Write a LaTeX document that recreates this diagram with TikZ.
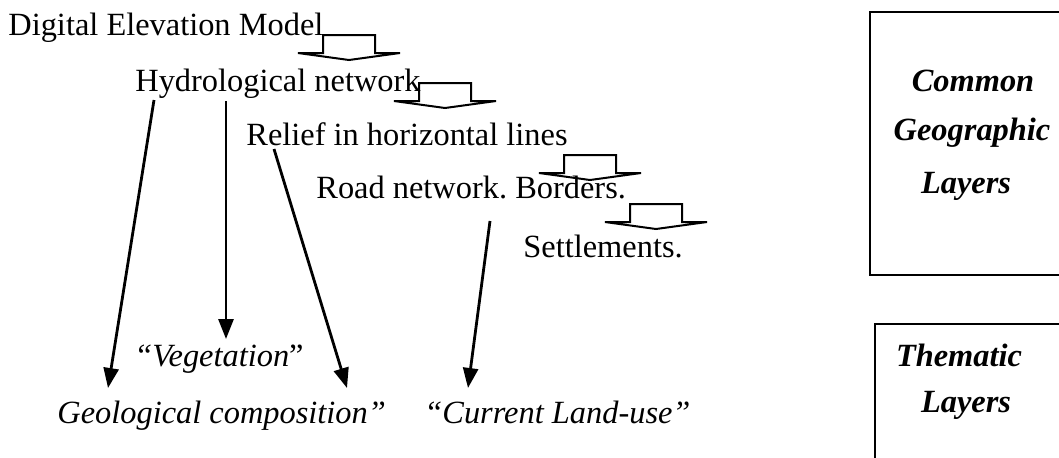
\documentclass[tikz,border=0pt]{standalone}
\usepackage{fontspec}
\setmainfont{Liberation Serif}
\usetikzlibrary{arrows.meta}
\frenchspacing
\tikzset{
  lbl/.style={inner sep=0pt, anchor=base west, font=\fontsize{16.2pt}{19pt}\selectfont},
  boxlbl/.style={inner sep=0pt, anchor=base, font=\fontsize{16.2pt}{19pt}\selectfont\bfseries\itshape},
  layerbox/.style={draw, line width=1pt, inner sep=0pt, anchor=north west},
  thinarrow/.style={line width=1.4pt, -{Triangle[length=10pt,width=7.5pt]}},
  blockline/.style={line width=1pt, line join=miter},
  blockarr/.pic={\draw[blockline] (-51,0) -- (-26,0) -- (-26,-18) -- (26,-18) -- (26,0) -- (51,0) -- (0,7) -- cycle;}
}
\begin{document}
\begin{tikzpicture}[x=0.5pt,y=-0.5pt]
\useasboundingbox (0,0) rectangle (1059,457);
\clip (0,0) rectangle (1059,457);
% layer boxes
\node[layerbox, minimum width=150pt, minimum height=131.5pt] (cgl) at (869,11) {};
\node[layerbox, minimum width=150pt, minimum height=80pt] (thl) at (874,323) {};
\node[boxlbl] (cgl1) at (973,91) {\frenchspacing Common};
\node[boxlbl] (cgl2) at (972,140) {Geographic};
\node[boxlbl] (cgl3) at (966,193) {Layers};
\node[boxlbl] (thl1) at (959,366) {Thematic};
\node[boxlbl] (thl2) at (966,412) {Layers};
% texts
\node[lbl] (dem) at (8,35) {Digital Elevation Model};
\node[lbl] (hyd) at (135,91) {Hydrological network};
\node[lbl] (rel) at (246,145) {Relief in horizontal lines};
\node[lbl] (road) at (316,198) {Road network. Borders.};
\node[lbl] (sett) at (523,257) {Settlements.};
\node[lbl] (veg) at (134,366) {\textit{“Vegetation}”};
\node[lbl] (geo) at (57,423) {\textit{Geological composition”}};
\node[lbl] (lu) at (424,423) {\textit{“Current Land-use”}};
% block arrows
\pic at (349,53) {blockarr};
\pic at (445,101) {blockarr};
\pic at (590,173) {blockarr};
\pic at (656,222) {blockarr};
% connector ends
\coordinate (a1) at (154,100);
\coordinate (a2) at (108,388);
\coordinate (b1) at (226,101);
\coordinate (b2) at (226,339);
\coordinate (c1) at (274,149);
\coordinate (c2) at (347,388);
\coordinate (d1) at (490,221);
\coordinate (d2) at (468,388);
\draw[thinarrow] (a1) -- (a2);
\draw[thinarrow] (b1) -- (b2);
\draw[thinarrow] (c1) -- (c2);
\draw[thinarrow] (d1) -- (d2);
\end{tikzpicture}
\end{document}
